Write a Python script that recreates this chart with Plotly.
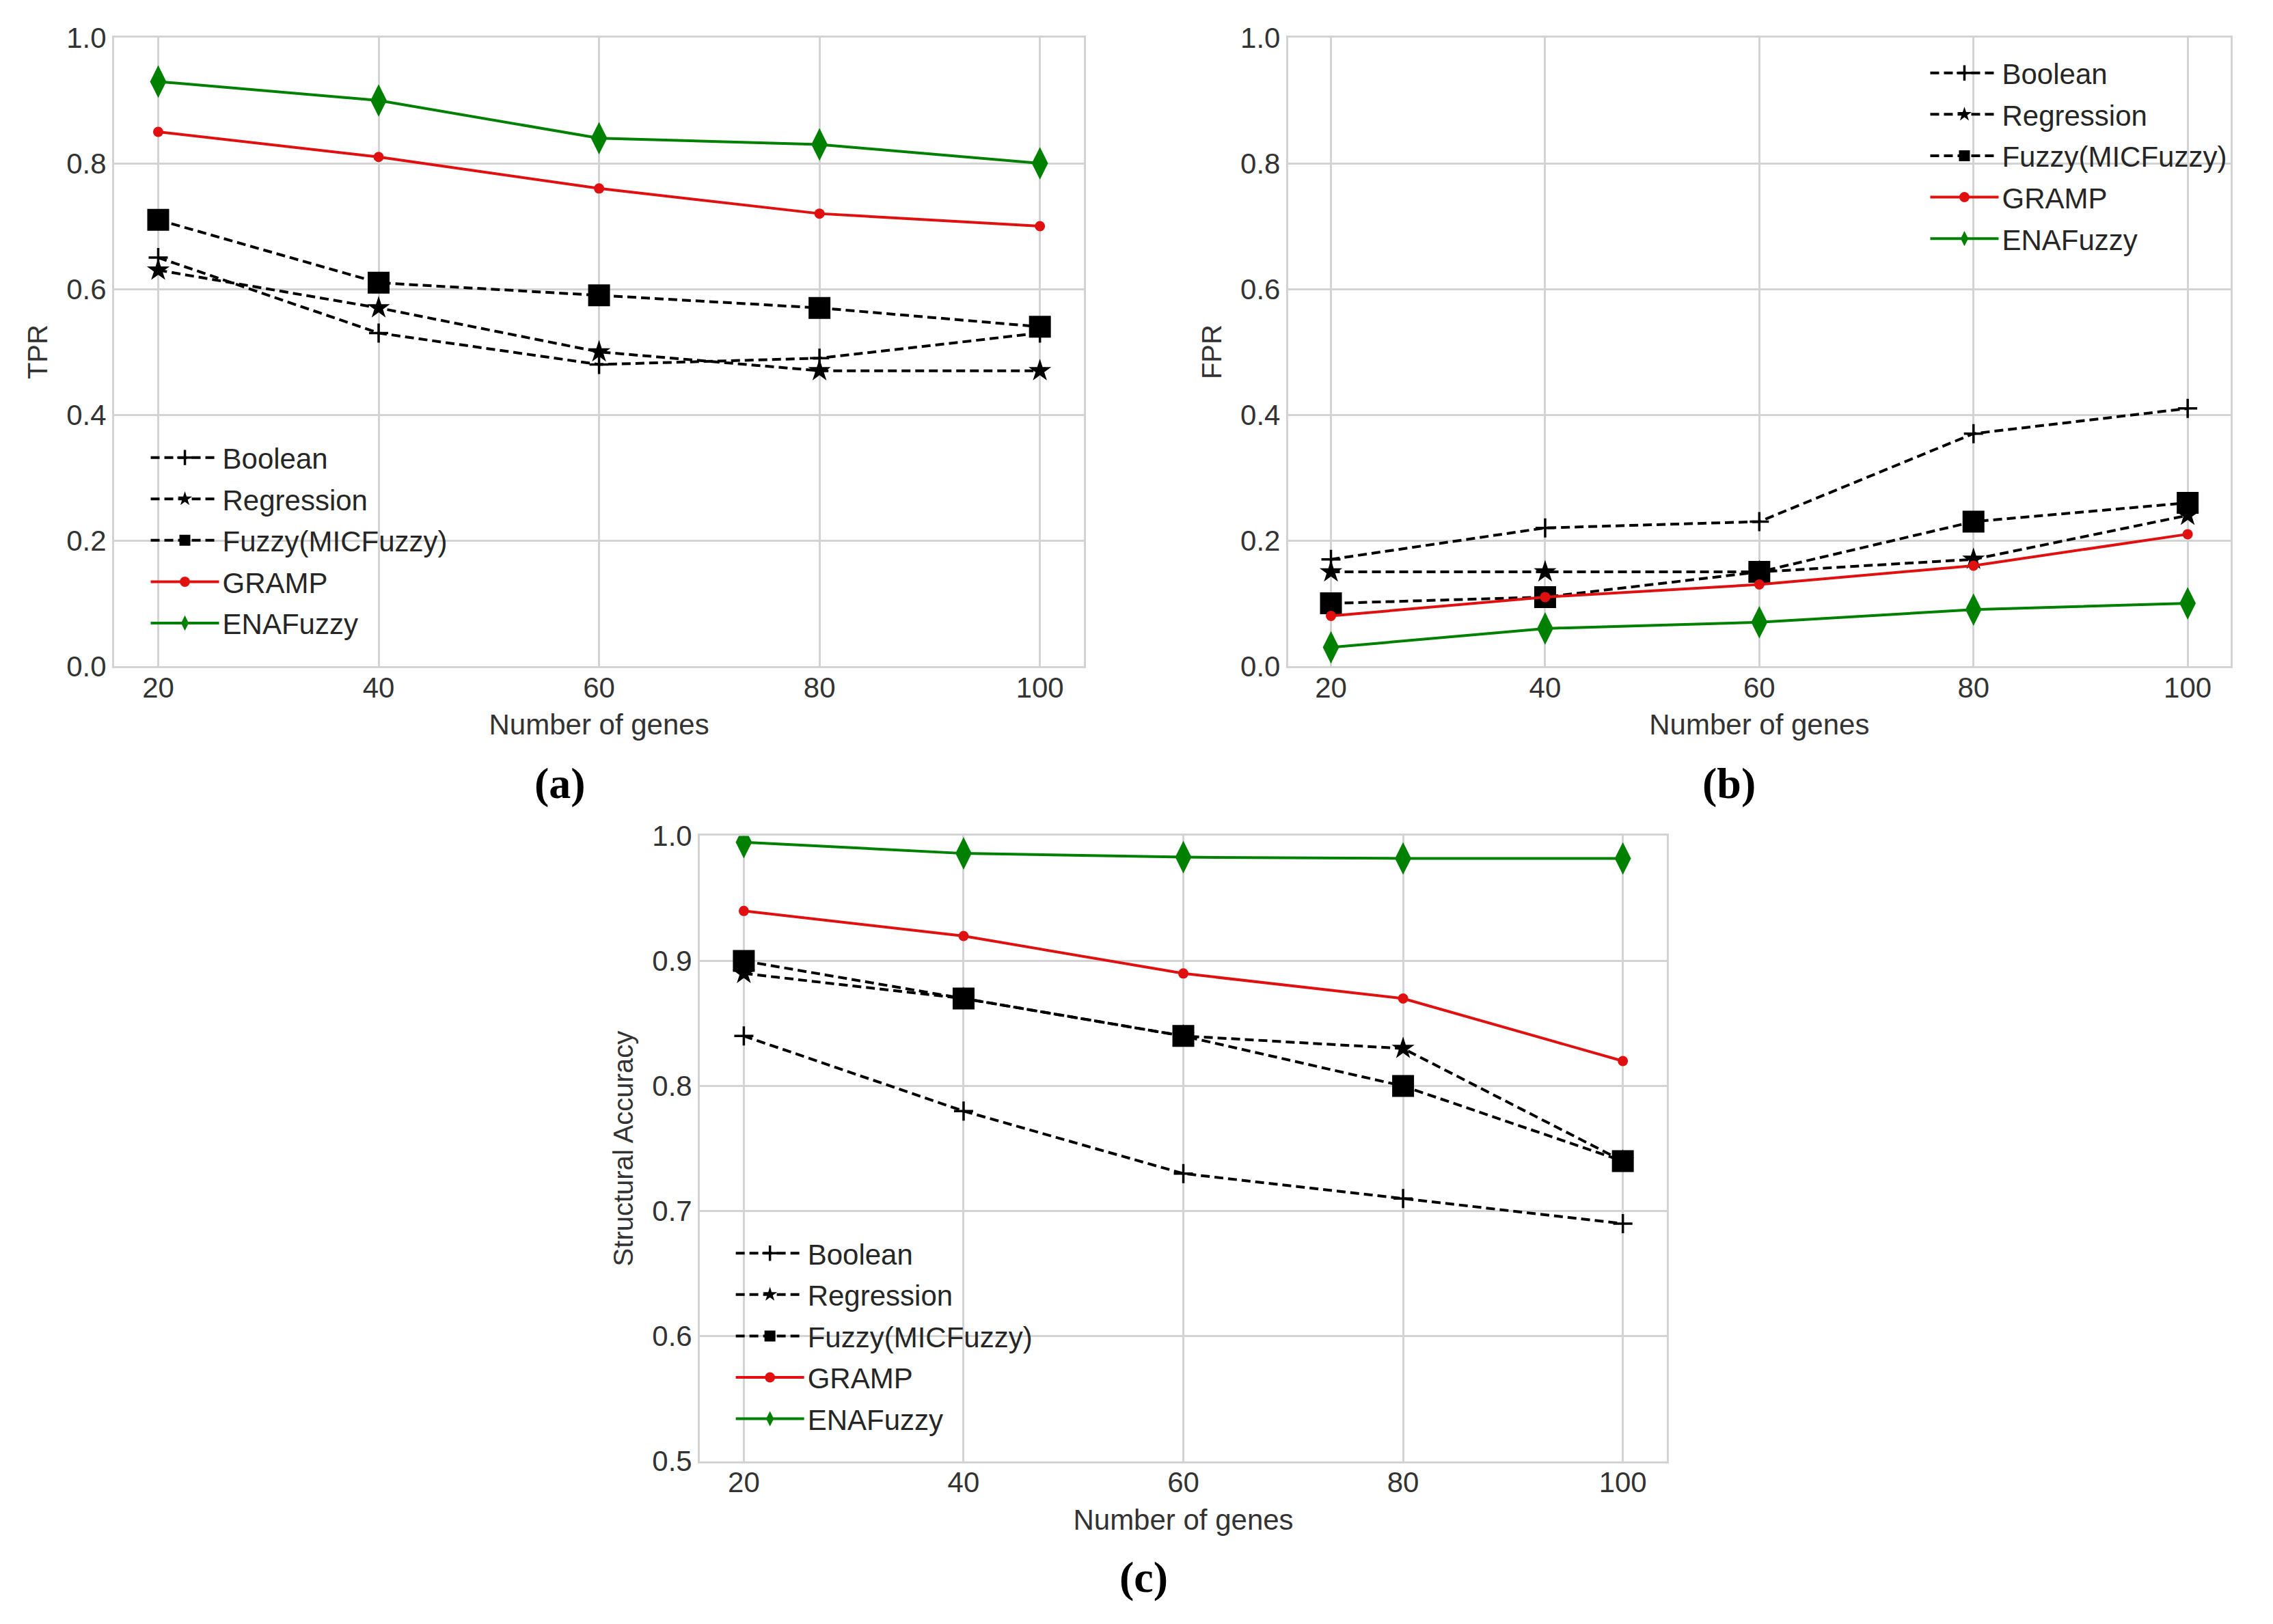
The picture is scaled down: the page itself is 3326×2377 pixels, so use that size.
import plotly.graph_objects as go

genes = [20, 40, 60, 80, 100]
methods = ["Boolean", "Regression", "Fuzzy(MICFuzzy)", "GRAMP", "ENAFuzzy"]

tpr_boolean = [0.65, 0.53, 0.48, 0.49, 0.53]
tpr_regression = [0.63, 0.57, 0.50, 0.47, 0.47]
tpr_fuzzy = [0.71, 0.61, 0.59, 0.57, 0.54]
tpr_gramp = [0.85, 0.81, 0.76, 0.72, 0.70]
tpr_enafuzzy = [0.93, 0.90, 0.84, 0.83, 0.80]

fpr_boolean = [0.17, 0.22, 0.23, 0.37, 0.41]
fpr_regression = [0.15, 0.15, 0.15, 0.17, 0.24]
fpr_fuzzy = [0.10, 0.11, 0.15, 0.23, 0.26]
fpr_gramp = [0.08, 0.11, 0.13, 0.16, 0.21]
fpr_enafuzzy = [0.03, 0.06, 0.07, 0.09, 0.10]

sa_boolean = [0.84, 0.78, 0.73, 0.71, 0.69]
sa_regression = [0.89, 0.87, 0.84, 0.83, 0.74]
sa_fuzzy = [0.90, 0.87, 0.84, 0.80, 0.74]
sa_gramp = [0.94, 0.92, 0.89, 0.87, 0.82]
sa_enafuzzy = [0.995, 0.986, 0.983, 0.982, 0.982]

W, H = 3326, 2377
RED = "#e01010"
GREEN = "#008000"
DASH = "13px,7px"

# marker / line style for each method, in legend order
styles = [
    dict(line=dict(color="black", width=4, dash=DASH),
         marker=dict(symbol="cross-thin", size=20, color="black",
                     line=dict(color="black", width=3.5))),
    dict(line=dict(color="black", width=4, dash=DASH),
         marker=dict(symbol="star", size=25, color="black",
                     line=dict(width=0))),
    dict(line=dict(color="black", width=4, dash=DASH),
         marker=dict(symbol="square", size=32, color="black",
                     line=dict(width=0))),
    dict(line=dict(color=RED, width=4),
         marker=dict(symbol="circle", size=15, color=RED,
                     line=dict(width=0))),
    dict(line=dict(color=GREEN, width=4),
         marker=dict(symbol="diamond-tall", size=34, color=GREEN,
                     line=dict(width=0))),
]

panels = [
    ("x", "y", "legend", [tpr_boolean, tpr_regression, tpr_fuzzy, tpr_gramp, tpr_enafuzzy]),
    ("x2", "y2", "legend2", [fpr_boolean, fpr_regression, fpr_fuzzy, fpr_gramp, fpr_enafuzzy]),
    ("x3", "y3", "legend3", [sa_boolean, sa_regression, sa_fuzzy, sa_gramp, sa_enafuzzy]),
]

fig = go.Figure()
for xa, ya, lg, series in panels:
    for name, vals, st in zip(methods, series, styles):
        fig.add_trace(go.Scatter(
            x=genes, y=vals, name=name, mode="lines+markers",
            xaxis=xa, yaxis=ya, legend=lg, legendgroup=lg + name,
            line=st["line"], marker=st["marker"],
        ))

FONT = "Liberation Sans, Arial, sans-serif"
TXT = "#333333"
GRID = "#d3d3d3"


def xaxis(domain, anchor):
    return dict(
        domain=domain, anchor=anchor, range=[16, 104],
        tickvals=genes, ticks="", ticklen=0, ticklabelstandoff=-8,
        showgrid=True, gridcolor=GRID, gridwidth=2.5,
        showline=True, mirror=True, linecolor=GRID, linewidth=3, zeroline=False,
        tickfont=dict(family=FONT, size=42, color=TXT),
        title=dict(text="Number of genes", font=dict(family=FONT, size=42, color=TXT), standoff=18),
    )


def yaxis(domain, anchor, rng, dtick, title):
    return dict(
        domain=domain, anchor=anchor, range=rng, dtick=dtick, tick0=0,
        tickformat=".1f", ticks="", ticklen=0, showgrid=True, gridcolor=GRID, gridwidth=2.5,
        showline=True, mirror=True, linecolor=GRID, linewidth=3, zeroline=False,
        tickfont=dict(family=FONT, size=42, color=TXT),
        title=dict(text=title, font=dict(family=FONT, size=40, color=TXT), standoff=16),
    )


legend_style = dict(
    bgcolor="rgba(0,0,0,0)", borderwidth=0,
    font=dict(family=FONT, size=42, color="#262626"),
    xanchor="left", yanchor="top", tracegroupgap=3, itemwidth=100,
)

fig.update_layout(
    width=W, height=H,
    margin=dict(l=0, r=0, t=0, b=0),
    paper_bgcolor="white", plot_bgcolor="white",
    xaxis=xaxis([0.0478, 0.4745], "y"),
    yaxis=yaxis([0.5948, 0.9897], "x", [0, 1], 0.2, "TPR"),
    xaxis2=xaxis([0.5643, 0.9789], "y2"),
    yaxis2=yaxis([0.5948, 0.9897], "x2", [0, 1], 0.2, "FPR"),
    xaxis3=xaxis([0.3055, 0.7309], "y3"),
    yaxis3=yaxis([0.0954, 0.4882], "x3", [0.5, 1.0], 0.1, "Structural Accuracy"),
    legend=dict(x=0.0624, y=0.7404, **legend_style),
    legend2=dict(x=0.8453, y=0.982, **legend_style),
    legend3=dict(x=0.3198, y=0.2406, **legend_style),
)

for txt, x, y in [("<b>(a)</b>", 811, 0.5213), ("<b>(b)</b>", 2522, 0.5213), ("<b>(c)</b>", 1665, 0.0224)]:
    fig.add_annotation(
        text=txt, x=x / W, y=y, xref="paper", yref="paper",
        showarrow=False, xanchor="center", yanchor="middle",
        font=dict(family="Liberation Serif, Times New Roman, serif", size=64, color="black"),
    )

fig.write_html("out.html")
